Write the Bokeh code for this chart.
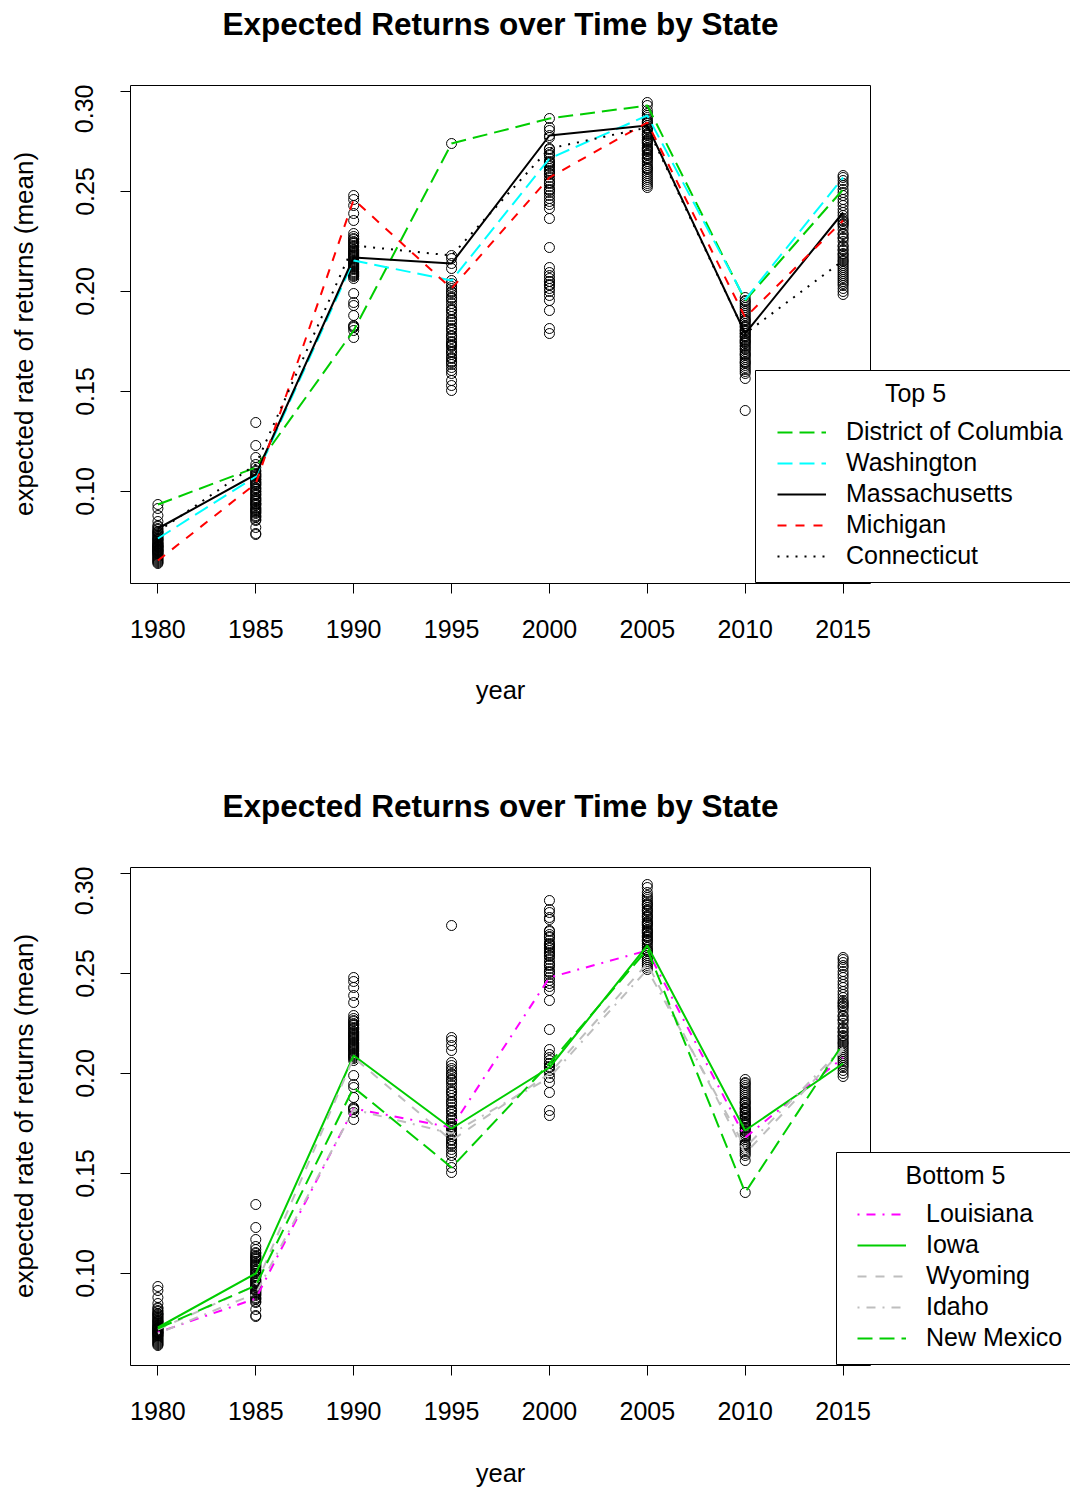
from bokeh.plotting import figure
from bokeh.models import (Range1d, FixedTicker, PrintfTickFormatter, Legend, LegendItem,
                          Label, BoxAnnotation)
from bokeh.layouts import column
from bokeh.embed import file_html
from bokeh.resources import INLINE

# ---------------- data ----------------
years = [1980, 1985, 1990, 1995, 2000, 2005, 2010, 2015]
y_ticks = [0.10, 0.15, 0.20, 0.25, 0.30]

# mean expected rate of return of every state, per year
pts_1980 = [0.0935, 0.0915, 0.0880, 0.0850, 0.0830, 0.0825, 0.0815, 0.0810, 0.0800, 0.0800,
            0.0795, 0.0785, 0.0780, 0.0770, 0.0765, 0.0760, 0.0750, 0.0745, 0.0740, 0.0735,
            0.0730, 0.0730, 0.0725, 0.0725, 0.0720, 0.0720, 0.0715, 0.0710, 0.0705, 0.0705,
            0.0700, 0.0700, 0.0695, 0.0690, 0.0685, 0.0680, 0.0675, 0.0670, 0.0665, 0.0660,
            0.0655, 0.0650, 0.0645, 0.0640, 0.0755, 0.0775, 0.0790, 0.0710, 0.0690, 0.0740, 0.0760]
pts_1985 = [0.1345, 0.1230, 0.1170, 0.1135, 0.1120, 0.1105, 0.1100, 0.1090, 0.1085, 0.1080,
            0.1075, 0.1070, 0.1060, 0.1050, 0.1040, 0.1035, 0.1030, 0.1020, 0.1010, 0.1000,
            0.0990, 0.0980, 0.0970, 0.0965, 0.0960, 0.0950, 0.0940, 0.0940, 0.0930, 0.0920,
            0.0910, 0.0900, 0.0895, 0.0890, 0.0880, 0.0875, 0.0870, 0.0860, 0.0855, 0.0820,
            0.0790, 0.0785, 0.1000, 0.1045, 0.0985, 0.0915, 0.0935, 0.1015, 0.0905, 0.0955, 0.1060]
pts_1990 = [0.2480, 0.2460, 0.2430, 0.2390, 0.2355, 0.2290, 0.2275, 0.2260, 0.2250, 0.2240,
            0.2230, 0.2220, 0.2210, 0.2205, 0.2200, 0.2190, 0.2180, 0.2170, 0.2165, 0.2155,
            0.2150, 0.2140, 0.2130, 0.2120, 0.2110, 0.2100, 0.2090, 0.2080, 0.2075, 0.2065,
            0.1990, 0.1945, 0.1930, 0.1880, 0.1830, 0.1825, 0.1820, 0.1805, 0.1770, 0.2245,
            0.2185, 0.2125, 0.2225, 0.2145, 0.2095, 0.2265, 0.2175, 0.2115, 0.2195, 0.2135, 0.2085]
pts_1995 = [0.2740, 0.2180, 0.2165, 0.2140, 0.2115, 0.2055, 0.2040, 0.2015, 0.2000, 0.1985,
            0.1970, 0.1955, 0.1940, 0.1925, 0.1910, 0.1890, 0.1875, 0.1860, 0.1845, 0.1830,
            0.1810, 0.1795, 0.1780, 0.1765, 0.1750, 0.1735, 0.1730, 0.1725, 0.1710, 0.1700,
            0.1685, 0.1670, 0.1665, 0.1650, 0.1635, 0.1620, 0.1605, 0.1590, 0.1555, 0.1530,
            0.1505, 0.2025, 0.1995, 0.1965, 0.1905, 0.1855, 0.1815, 0.1775, 0.1745, 0.1695, 0.1645]
pts_2000 = [0.2865, 0.2820, 0.2805, 0.2780, 0.2770, 0.2715, 0.2710, 0.2695, 0.2680, 0.2665,
            0.2650, 0.2640, 0.2630, 0.2615, 0.2600, 0.2590, 0.2570, 0.2555, 0.2540, 0.2525,
            0.2510, 0.2495, 0.2480, 0.2465, 0.2450, 0.2435, 0.2415, 0.2365, 0.2220, 0.2120,
            0.2095, 0.2080, 0.2065, 0.2050, 0.2050, 0.2035, 0.2030, 0.2015, 0.2000, 0.1980,
            0.1955, 0.1905, 0.1815, 0.1790, 0.2685, 0.2625, 0.2585, 0.2545, 0.2505, 0.2645, 0.2605]
pts_2005 = [0.2945, 0.2930, 0.2905, 0.2890, 0.2880, 0.2870, 0.2860, 0.2850, 0.2845, 0.2840,
            0.2830, 0.2820, 0.2810, 0.2800, 0.2790, 0.2780, 0.2770, 0.2760, 0.2750, 0.2740,
            0.2730, 0.2720, 0.2710, 0.2700, 0.2690, 0.2680, 0.2670, 0.2660, 0.2650, 0.2640,
            0.2630, 0.2620, 0.2615, 0.2610, 0.2600, 0.2590, 0.2580, 0.2570, 0.2560, 0.2550,
            0.2540, 0.2530, 0.2520, 0.2785, 0.2745, 0.2705, 0.2665, 0.2755, 0.2715, 0.2815, 0.2685]
pts_2010 = [0.1970, 0.1955, 0.1950, 0.1940, 0.1930, 0.1920, 0.1910, 0.1900, 0.1890, 0.1880,
            0.1870, 0.1860, 0.1850, 0.1840, 0.1830, 0.1820, 0.1810, 0.1800, 0.1790, 0.1790,
            0.1780, 0.1770, 0.1760, 0.1750, 0.1740, 0.1730, 0.1715, 0.1710, 0.1700, 0.1690,
            0.1680, 0.1670, 0.1660, 0.1650, 0.1640, 0.1630, 0.1620, 0.1610, 0.1600, 0.1590,
            0.1565, 0.1405, 0.1855, 0.1805, 0.1755, 0.1725, 0.1685, 0.1645, 0.1775, 0.1825, 0.1745]
pts_2015 = [0.2580, 0.2570, 0.2555, 0.2540, 0.2530, 0.2510, 0.2495, 0.2480, 0.2460, 0.2445,
            0.2430, 0.2410, 0.2395, 0.2380, 0.2365, 0.2355, 0.2350, 0.2340, 0.2325, 0.2310,
            0.2290, 0.2270, 0.2250, 0.2230, 0.2210, 0.2190, 0.2175, 0.2165, 0.2155, 0.2150,
            0.2140, 0.2130, 0.2120, 0.2110, 0.2100, 0.2090, 0.2080, 0.2070, 0.2060, 0.2050,
            0.2040, 0.2030, 0.2015, 0.2000, 0.1985, 0.2335, 0.2225, 0.2185, 0.2285, 0.2205, 0.2265]
all_points = [pts_1980, pts_1985, pts_1990, pts_1995, pts_2000, pts_2005, pts_2010, pts_2015]

# Top 5 states
top5_names = ["District of Columbia", "Washington", "Massachusetts", "Michigan", "Connecticut"]
district_of_columbia = [0.0935, 0.1120, 0.1805, 0.2740, 0.2865, 0.2930, 0.1955, 0.2510]
washington = [0.0765, 0.1075, 0.2155, 0.2055, 0.2665, 0.2880, 0.1960, 0.2570]
massachusetts = [0.0815, 0.1085, 0.2170, 0.2140, 0.2780, 0.2830, 0.1790, 0.2395]
michigan = [0.0655, 0.1040, 0.2460, 0.2015, 0.2570, 0.2845, 0.1870, 0.2355]
connecticut = [0.0800, 0.1135, 0.2230, 0.2180, 0.2715, 0.2820, 0.1790, 0.2155]
top5_values = [district_of_columbia, washington, massachusetts, michigan, connecticut]

# Bottom 5 states
bottom5_names = ["Louisiana", "Iowa", "Wyoming", "Idaho", "New Mexico"]
louisiana = [0.0705, 0.0875, 0.1825, 0.1730, 0.2480, 0.2615, 0.1680, 0.2080]
iowa = [0.0730, 0.1000, 0.2090, 0.1725, 0.2030, 0.2640, 0.1715, 0.2050]
wyoming = [0.0720, 0.0940, 0.2080, 0.1665, 0.2000, 0.2550, 0.1600, 0.2120]
idaho = [0.0700, 0.0900, 0.1820, 0.1700, 0.1980, 0.2520, 0.1630, 0.2130]
new_mexico = [0.0725, 0.0940, 0.1930, 0.1530, 0.2050, 0.2620, 0.1405, 0.2150]
bottom5_values = [louisiana, iowa, wyoming, idaho, new_mexico]

TITLE = "Expected Returns over Time by State"
X_LABEL = "year"
Y_LABEL = "expected rate of returns (mean)"

# ---------------- styles / layout ----------------
GREEN3, GRAY = "#00CD00", "#BEBEBE"
LONGDASH, DASHED, DOTTED, DOTDASH = "15 7", "9 9", "2 7", "2 7 9 7"
top5_styles = [(GREEN3, LONGDASH), ("#00FFFF", LONGDASH), ("black", "solid"),
               ("#FF0000", DASHED), ("black", DOTTED)]
bottom5_styles = [("#FF00FF", DOTDASH), (GREEN3, "solid"), (GRAY, DASHED),
                  (GRAY, DOTDASH), (GREEN3, LONGDASH)]

FONT = "Liberation Sans"
W = 1070
BOX_L, BOX_R, BOX_T, BOX_B = 130, 870, 85, 583      # plot box in px (panel coordinates)
FRAME_T = 84                                         # bokeh frame starts 1px above the box
PANEL_H = 566                                        # height of a plot figure
X0, X1 = 1978.6, 2016.4                              # data limits of the plot box
Y0, Y1 = 0.054, 0.303
XK = (X1 - X0) / (BOX_R - BOX_L)                     # data units per px
YK = (Y1 - Y0) / (BOX_B - BOX_T)
X_EDGE = X0 + (W - BOX_L) * XK                       # right edge of the canvas
Y_TOP = Y1 + (BOX_T - FRAME_T) * YK


def xp(px):
    return X0 + (px - BOX_L) * XK


def yp(py):
    return Y0 + (BOX_B - py) * YK


def strip(height, texts):
    """A text-only band (titles and the x-axis title); its frame is aligned with the plots'."""
    s = figure(width=W, height=height, output_backend="svg", toolbar_location=None,
               x_range=Range1d(BOX_L, W), y_range=Range1d(0, height),
               x_axis_type=None, y_axis_type=None,
               min_border_left=BOX_L, min_border_right=0, min_border_top=0, min_border_bottom=0)
    s.outline_line_color = None
    s.background_fill_color = "white"
    s.border_fill_color = "white"
    for text, x, y_from_top, size, style in texts:
        s.add_layout(Label(x=x, y=height - y_from_top, text=text, text_align="center",
                           text_baseline="middle", text_font=FONT, text_font_size=size,
                           text_font_style=style, text_color="black"))
    return s


def make_panel(names, values, styles, leg_title, box_left, title_cx, glyph_left):
    p = figure(width=W, height=PANEL_H, output_backend="svg", toolbar_location=None,
               x_range=Range1d(X0, X_EDGE), y_range=Range1d(Y0, Y_TOP),
               min_border_left=BOX_L, min_border_right=0,
               min_border_top=0, min_border_bottom=PANEL_H - (BOX_B - FRAME_T))
    p.background_fill_color = "white"
    p.border_fill_color = "white"
    p.outline_line_color = None
    p.xgrid.visible = False
    p.ygrid.visible = False

    p.xaxis.ticker = FixedTicker(ticks=years)
    p.yaxis.ticker = FixedTicker(ticks=y_ticks)
    p.yaxis.formatter = PrintfTickFormatter(format="%.2f")
    p.xaxis.bounds = (X0, X1)
    p.yaxis.bounds = (Y0, Y1)
    p.yaxis.axis_label = Y_LABEL
    p.yaxis.major_label_orientation = "vertical"
    for ax in (p.xaxis[0], p.yaxis[0]):
        ax.axis_line_color = "black"
        ax.axis_line_width = 1
        ax.major_tick_line_color = "black"
        ax.major_tick_in = 0
        ax.major_tick_out = 10
        ax.minor_tick_line_color = None
        ax.major_label_text_font = FONT
        ax.major_label_text_font_size = "25px"
        ax.major_label_text_color = "black"
        ax.axis_label_text_font = FONT
        ax.axis_label_text_font_size = "26px"
        ax.axis_label_text_font_style = "normal"
        ax.axis_label_text_color = "black"
    p.xaxis.major_label_standoff = 26
    p.yaxis.major_label_standoff = 27
    p.yaxis.axis_label_standoff = 34

    # points of all states
    xs, ys = [], []
    for yr, pts in zip(years, all_points):
        xs += [yr] * len(pts)
        ys += pts
    p.scatter(xs, ys, marker="circle", size=10, fill_color=None,
              line_color="black", line_width=1)

    items = []
    for name, vals, (color, dash) in zip(names, values, styles):
        r = p.line(years, vals, line_color=color, line_dash=dash, line_width=2)
        items.append(LegendItem(label=name, renderers=[r]))

    # plot box (top and right sides; left/bottom are the axis lines)
    p.add_layout(BoxAnnotation(left=X0, right=X1, top=Y1, bottom=Y0,
                               fill_color=None, line_color="black", line_alpha=1.0,
                               line_width=1))
    # legend frame, running off the right edge
    p.add_layout(BoxAnnotation(left=xp(box_left), right=X_EDGE + 1.0,
                               top=yp(370), bottom=yp(582),
                               fill_color="white", fill_alpha=1.0,
                               line_color="black", line_alpha=1.0, line_width=1))
    p.add_layout(Label(x=xp(title_cx), y=yp(392), text=leg_title,
                       text_align="center", text_baseline="middle",
                       text_font=FONT, text_font_size="25px", text_color="black"))
    leg = Legend(items=items, location=(glyph_left - BOX_L, 13), padding=0, spacing=2,
                 margin=0, glyph_width=49, glyph_height=28, label_height=28,
                 label_standoff=20, border_line_color=None, background_fill_alpha=0,
                 label_text_font=FONT, label_text_font_size="25px",
                 label_text_color="black")
    p.add_layout(leg)
    return p


CX = (BOX_L + BOX_R) / 2
s1 = strip(84, [(TITLE, CX, 23.5, "31.5px", "bold")])
p1 = make_panel(top5_names, top5_values, top5_styles, "Top 5", 755, 915, 777)
s2 = strip(216, [(X_LABEL, CX, 39, "25.5px", "normal"), (TITLE, CX, 155.5, "31.5px", "bold")])
p2 = make_panel(bottom5_names, bottom5_values, bottom5_styles, "Bottom 5", 836, 955, 857)
s3 = strip(58, [(X_LABEL, CX, 40, "25.5px", "normal")])

layout = column(s1, p1, s2, p2, s3, spacing=0)
open("out.html", "w").write(file_html(layout, INLINE))
